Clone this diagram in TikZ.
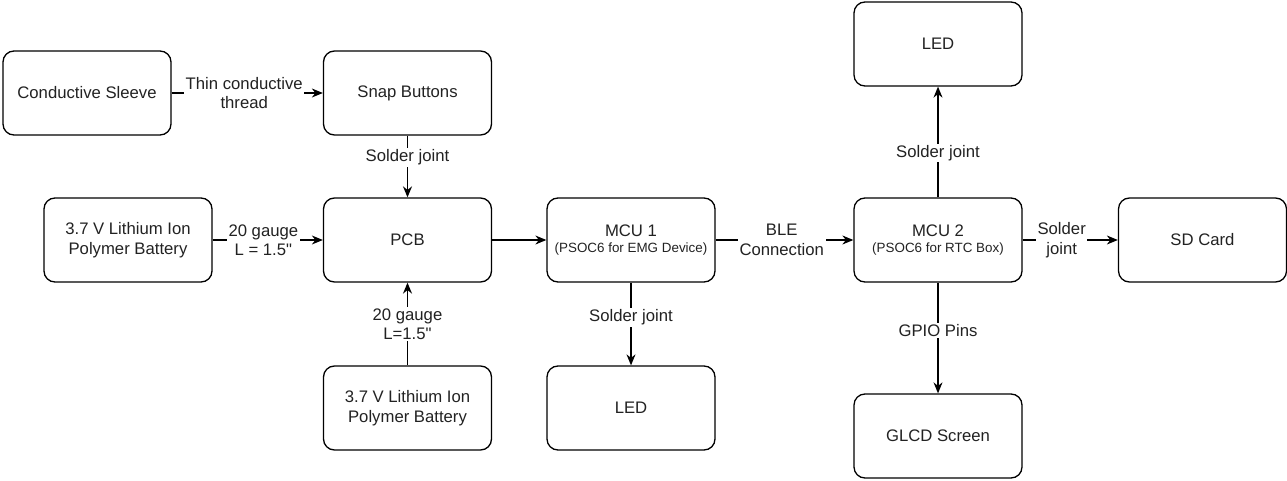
\documentclass[tikz,border=0pt]{standalone}
\usepackage{fontspec}
\setmainfont{Liberation Sans}[Ligatures=TeXOff]
\usetikzlibrary{arrows.meta}
\definecolor{txt}{HTML}{222222}
\begin{document}
\begin{tikzpicture}[x=1pt,y=-1pt,
  box/.style={draw=black,line width=1.3pt,rounded corners=11pt,minimum width=168pt,minimum height=84pt,align=center,text=txt,font=\fontsize{16.7}{19.5}\selectfont,inner sep=2pt},
  conn/.style={draw=black,line width=1.3pt,-{Stealth[length=11pt,width=9pt]}},
  lbl/.style={fill=white,text=txt,align=center,font=\fontsize{16.7}{19.5}\selectfont,inner sep=1.5pt}]
\useasboundingbox (0,0) rectangle (1287,481);
\node[box] (sleeve) at (87,93) {Conductive Sleeve};
\node[box] (snap) at (407.5,93) {Snap Buttons};
\node[box] (batL) at (128,240) {3.7 V Lithium Ion\\Polymer Battery};
\node[box] (pcb) at (407.5,240) {PCB};
\node[box] (mcu1) at (631,240) {MCU 1\\[-4pt]{\fontsize{13.4}{15}\selectfont (PSOC6 for EMG Device)}};
\node[box] (led1) at (631,408) {LED};
\node[box] (batB) at (407.5,408) {3.7 V Lithium Ion\\Polymer Battery};
\node[box] (ledT) at (938,44) {LED};
\node[box] (mcu2) at (938,240) {MCU 2\\[-4pt]{\fontsize{13.4}{15}\selectfont (PSOC6 for RTC Box)}};
\node[box] (sd) at (1202.5,240) {SD Card};
\node[box] (glcd) at (938,436) {GLCD Screen};

\draw[conn] (sleeve) -- node[lbl,pos=0.48] {Thin conductive\\thread} (snap);
\draw[conn] (snap) -- node[lbl,pos=0.35] {Solder joint} (pcb);
\draw[conn] (batL) -- node[lbl,pos=0.46] {20 gauge\\L = 1.5"} (pcb);
\draw[conn] (batB) -- node[lbl,pos=0.5] {20 gauge\\L=1.5"} (pcb);
\draw[conn] (pcb) -- (mcu1);
\draw[conn] (mcu1) -- node[lbl,pos=0.48] {BLE\\Connection} (mcu2);
\draw[conn] (mcu1) -- node[lbl,pos=0.42] {Solder joint} (led1);
\draw[conn] (mcu2) -- node[lbl,pos=0.4] {Solder joint} (ledT);
\draw[conn] (mcu2) -- node[lbl,pos=0.41] {Solder\\joint} (sd);
\draw[conn] (mcu2) -- node[lbl,pos=0.43] {GPIO Pins} (glcd);
\end{tikzpicture}
\end{document}
